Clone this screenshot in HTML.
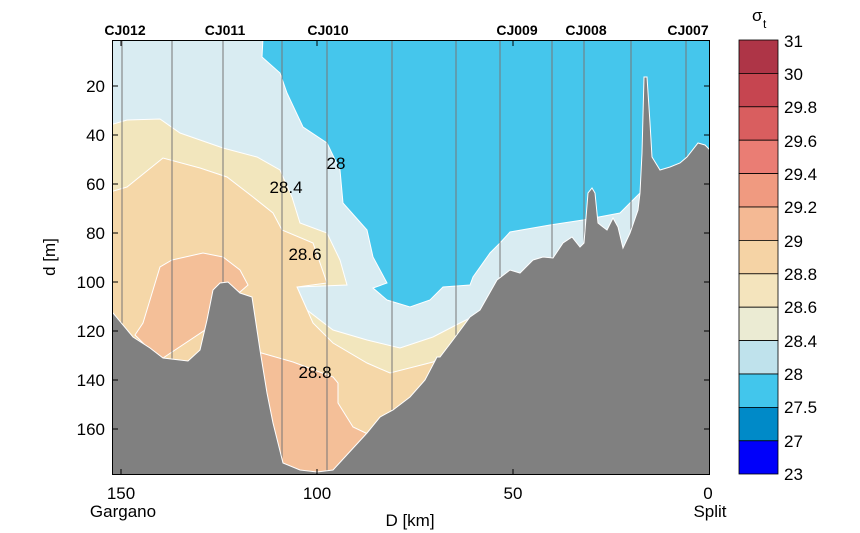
<!DOCTYPE html>
<html><head><meta charset="utf-8"><style>
body{margin:0;background:#fff;}
svg{display:block;font-family:"Liberation Sans",sans-serif;}
</style></head><body>
<svg width="860" height="533" viewBox="0 0 860 533" xmlns="http://www.w3.org/2000/svg">
<defs><clipPath id="c"><rect x="113" y="41" width="596" height="433"/></clipPath></defs>
<g clip-path="url(#c)">
<rect x="113" y="41" width="596" height="433" fill="#d9ecf2"/>
<!-- blue -->
<polygon fill="#45c6ec" stroke="#fff" stroke-width="1" points="263,38 262,57 280,73 287,93 303,127 327,143 340,170 343,203 367,230 373,257 387,283 373,288 387,300 410,307 430,300 443,287 470,285 473,277 490,253 500,243 510,232 550,225 583,220 620,213 640,193 712,193 712,38"/>
<!-- yellow -->
<polygon fill="#f2e6bd" stroke="#fff" stroke-width="1" points="110,125 127,120 160,119 180,133 223,148 257,157 280,170 292,197 300,223 327,233 340,260 347,285 297,287 307,310 333,330 367,340 400,348 433,337 460,323 470,318 470,480 110,480"/>
<!-- peach -->
<polygon fill="#f5d7a8" stroke="#fff" stroke-width="1" points="110,192 127,187 163,158 200,168 227,177 253,197 273,213 282,230 313,243 327,283 297,287 313,323 333,343 367,363 390,373 433,362 445,355 445,480 110,480"/>
<!-- salmon -->
<polygon fill="#f4bf98" stroke="#fff" stroke-width="1" points="135,335 143,323 153,290 160,267 172,260 203,253 223,257 240,270 248,285 240,292 220,292 205,330 160,360"/>
<polygon fill="#f4bf98" stroke="#fff" stroke-width="1" points="258,352 293,362 333,377 338,383 338,403 353,427 370,435 345,480 258,480"/>
<!-- station lines -->
<g stroke="#767676" stroke-width="1">
<line x1="122" y1="41" x2="122" y2="474"/><line x1="172" y1="41" x2="172" y2="474"/><line x1="223" y1="41" x2="223" y2="474"/><line x1="282" y1="41" x2="282" y2="474"/><line x1="327" y1="41" x2="327" y2="474"/><line x1="392" y1="41" x2="392" y2="474"/><line x1="456" y1="41" x2="456" y2="474"/><line x1="500" y1="41" x2="500" y2="474"/><line x1="552" y1="41" x2="552" y2="474"/><line x1="584" y1="41" x2="584" y2="474"/><line x1="631" y1="41" x2="631" y2="474"/><line x1="686" y1="41" x2="686" y2="474"/>
</g>
<!-- bathymetry -->
<polygon fill="#808080" stroke="#fff" stroke-width="1" points="110,311 113,313 133,337 150,348 163,358 188,361 200,350 207,320 213,290 220,283 228,282 240,293 252,297 260,350 267,393 273,423 283,463 300,470 317,472 333,470 367,433 380,417 393,410 410,397 425,380 437,357 440,357 453,340 470,317 480,310 497,280 510,270 520,273 533,260 543,257 553,258 563,243 572,237 580,247 584,243 588,193 592,188 595,193 598,223 603,227 607,230 613,218 618,227 623,248 630,233 638,210 640,193 642,153 644,77 647,77 650,123 652,157 660,170 670,167 680,163 687,157 698,143 705,145 712,152 712,480 110,480"/>
</g>
<rect x="112.5" y="40.5" width="597" height="434" fill="none" stroke="#000" stroke-width="1"/>
<!-- ticks -->
<g stroke="#000" stroke-width="1">
<line x1="121" y1="474" x2="121" y2="469"/><line x1="317" y1="474" x2="317" y2="469"/><line x1="513" y1="474" x2="513" y2="469"/>
<line x1="121" y1="41" x2="121" y2="46"/><line x1="317" y1="41" x2="317" y2="46"/><line x1="513" y1="41" x2="513" y2="46"/>
<line x1="113" y1="86" x2="118" y2="86"/><line x1="113" y1="135" x2="118" y2="135"/><line x1="113" y1="184" x2="118" y2="184"/><line x1="113" y1="233" x2="118" y2="233"/><line x1="113" y1="282" x2="118" y2="282"/><line x1="113" y1="331" x2="118" y2="331"/><line x1="113" y1="380" x2="118" y2="380"/><line x1="113" y1="429" x2="118" y2="429"/>
<line x1="709" y1="86" x2="704" y2="86"/><line x1="709" y1="135" x2="704" y2="135"/><line x1="709" y1="184" x2="704" y2="184"/><line x1="709" y1="233" x2="704" y2="233"/><line x1="709" y1="282" x2="704" y2="282"/><line x1="709" y1="331" x2="704" y2="331"/><line x1="709" y1="380" x2="704" y2="380"/><line x1="709" y1="429" x2="704" y2="429"/>
</g>
<g font-size="17" text-anchor="end">
<text x="105" y="92">20</text><text x="105" y="141">40</text><text x="105" y="190">60</text><text x="105" y="239">80</text><text x="105" y="288">100</text><text x="105" y="337">120</text><text x="105" y="386">140</text><text x="105" y="435">160</text>
</g>
<g font-size="17" text-anchor="middle">
<text x="121" y="499">150</text><text x="317" y="499">100</text><text x="513" y="499">50</text><text x="708" y="499">0</text>
<text x="123" y="517">Gargano</text><text x="710" y="517">Split</text>
<text x="410" y="526">D [km]</text>
<text x="336" y="169">28</text><text x="286" y="193">28.4</text><text x="305" y="260">28.6</text><text x="315" y="378">28.8</text>
</g>
<text font-size="17" text-anchor="middle" transform="translate(55,257) rotate(-90)">d [m]</text>
<g font-size="14" font-weight="bold" text-anchor="middle">
<text x="125" y="35">CJ012</text><text x="225" y="35">CJ011</text><text x="328" y="35">CJ010</text><text x="517" y="35">CJ009</text><text x="586" y="35">CJ008</text><text x="688" y="35">CJ007</text>
</g>
<!-- colorbar -->
<g stroke="#000" stroke-width="0.8">
<rect x="739" y="40" width="39" height="33.4" fill="#ae3547"/>
<rect x="739" y="73.4" width="39" height="33.4" fill="#c64550"/>
<rect x="739" y="106.8" width="39" height="33.4" fill="#d95e5f"/>
<rect x="739" y="140.2" width="39" height="33.4" fill="#ea7d74"/>
<rect x="739" y="173.6" width="39" height="33.4" fill="#f09a80"/>
<rect x="739" y="207" width="39" height="33.4" fill="#f4b994"/>
<rect x="739" y="240.4" width="39" height="33.4" fill="#f5d3a5"/>
<rect x="739" y="273.8" width="39" height="33.4" fill="#f4e4bd"/>
<rect x="739" y="307.2" width="39" height="33.4" fill="#ebebd3"/>
<rect x="739" y="340.6" width="39" height="33.4" fill="#bfe2ec"/>
<rect x="739" y="374" width="39" height="33.4" fill="#42c6ec"/>
<rect x="739" y="407.4" width="39" height="33.4" fill="#008ac8"/>
<rect x="739" y="440.8" width="39" height="33.2" fill="#0000fa"/>
</g>
<g font-size="17">
<text x="784" y="47">31</text><text x="784" y="80">30</text><text x="784" y="113">29.8</text><text x="784" y="147">29.6</text><text x="784" y="180">29.4</text><text x="784" y="213">29.2</text><text x="784" y="247">29</text><text x="784" y="280">28.8</text><text x="784" y="313">28.6</text><text x="784" y="347">28.4</text><text x="784" y="380">28</text><text x="784" y="413">27.5</text><text x="784" y="447">27</text><text x="784" y="480">23</text>
</g>
<text x="752" y="21" font-size="17">σ</text><text x="763" y="28" font-size="12">t</text>
</svg>
</body></html>
